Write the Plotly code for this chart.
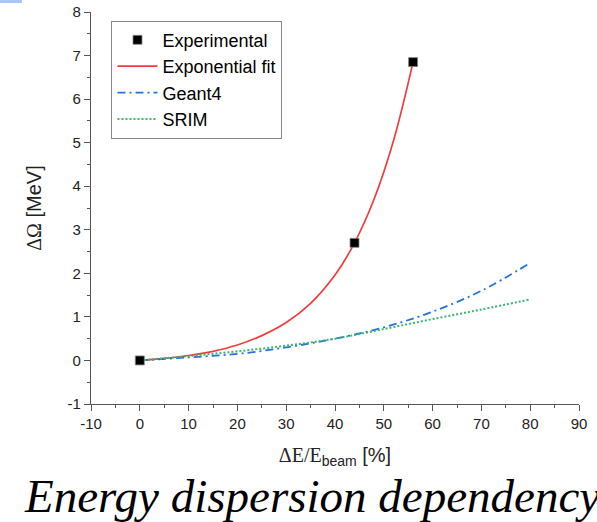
import plotly.graph_objects as go

# ---- data ----
exp_x = [0, 44, 56]
exp_y = [0.0, 2.7, 6.85]

fit_x = [0, 5, 10, 15, 20, 25, 30, 35, 40, 44, 48, 52, 56]
fit_y = [0.0, 0.046, 0.113, 0.21, 0.355, 0.57, 0.87, 1.31, 1.96, 2.70, 3.70, 5.05, 6.85]

geant_x = [0, 10, 20, 30, 40, 50, 60, 70, 80]
geant_y = [0.0, 0.07, 0.15, 0.30, 0.50, 0.76, 1.12, 1.60, 2.24]

srim_x = [0, 10, 20, 30, 40, 50, 60, 70, 80]
srim_y = [0.0, 0.10, 0.21, 0.34, 0.50, 0.72, 0.95, 1.17, 1.40]

x_ticks = [-10, 0, 10, 20, 30, 40, 50, 60, 70, 80, 90]
y_ticks = [-1, 0, 1, 2, 3, 4, 5, 6, 7, 8]

fig = go.Figure()
fig.add_trace(go.Scatter(x=fit_x, y=fit_y, mode="lines", name="Exponential fit",
                         line=dict(color="#f03c3c", width=1.7, shape="spline"), legendrank=2))
fig.add_trace(go.Scatter(x=geant_x, y=geant_y, mode="lines", name="Geant4",
                         line=dict(color="#2272e0", width=1.8, dash="8px,4px,2px,4px", shape="spline"),
                         legendrank=3))
fig.add_trace(go.Scatter(x=srim_x, y=srim_y, mode="lines", name="SRIM",
                         line=dict(color="#3cb46e", width=2, dash="2px,2px", shape="spline"),
                         legendrank=4))
fig.add_trace(go.Scatter(x=exp_x, y=exp_y, mode="markers", name="Experimental",
                         marker=dict(symbol="square", size=9, color="black",
                                     line=dict(color="#888", width=0.8)),
                         legendrank=1))

axis_common = dict(
    showline=True, linecolor="#555", linewidth=1.2, automargin=False,
    ticks="outside", ticklen=6, tickwidth=1.2, tickcolor="#555",
    showgrid=False, zeroline=False,
    tickfont=dict(family="Arial, Liberation Sans", size=15, color="#222"),
)
minor_common = dict(ticks="outside", ticklen=3, tickwidth=1.2, tickcolor="#555", showgrid=False)

fig.update_layout(
    template="none",
    width=597, height=522,
    margin=dict(l=91, r=18, t=12, b=118, autoexpand=False),
    paper_bgcolor="white", plot_bgcolor="white",
    showlegend=True,
    legend=dict(x=0.042, y=0.978, xanchor="left", yanchor="top",
                bordercolor="#888", borderwidth=1, bgcolor="white",
                font=dict(family="Arial, Liberation Sans", size=18, color="black"),
                tracegroupgap=0, itemwidth=40),
    xaxis=dict(range=[-10, 90], tickvals=x_ticks, ticktext=[str(v) for v in x_ticks],
               minor=dict(dtick=5, **minor_common),
               title=dict(text='<span style="font-family:Liberation Serif">ΔE/E</span>'
                               '<sub>beam</sub> [%]',
                          font=dict(family="Arial, Liberation Sans", size=20, color="#222"),
                          standoff=16),
               **axis_common),
    yaxis=dict(range=[-1, 8], tickvals=y_ticks, ticktext=[str(v) for v in y_ticks],
               minor=dict(dtick=0.5, **minor_common),
               title=dict(text='<span style="font-family:Liberation Serif">ΔΩ</span> [MeV]',
                          font=dict(family="Arial, Liberation Sans", size=20, color="#222"),
                          standoff=20),
               **axis_common),
    annotations=[dict(text="<i>Energy dispersion dependency</i>", xref="paper", yref="paper",
                      x=-0.142, y=-0.234, xanchor="left", yanchor="middle", showarrow=False,
                      font=dict(family="Liberation Serif", size=47, color="black"))],
    shapes=[dict(type="rect", xref="paper", yref="paper",
                 x0=-91 / 487.6, x1=-69 / 487.6, y0=1 + 9 / 392, y1=1 + 12 / 392,
                 fillcolor="#a8c4f8", line=dict(width=0))],
)

fig.write_html("out.html")
